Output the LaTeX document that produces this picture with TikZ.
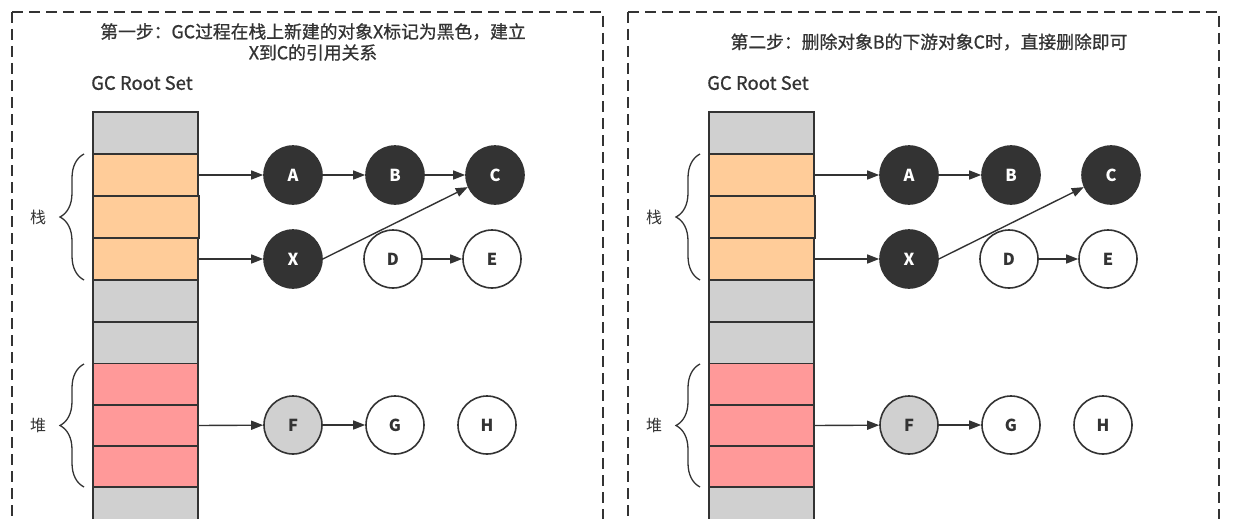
\documentclass[tikz,border=0pt]{standalone}
\usepackage{fontspec}
\setmainfont{Noto Sans CJK SC}
\newfontfamily\medfont{Noto Sans CJK SC}[FakeBold=0.8]
\usetikzlibrary{arrows.meta,decorations.pathreplacing}
\definecolor{ink}{HTML}{333333}
\definecolor{cgray}{HTML}{D0D0D0}
\definecolor{corange}{HTML}{FFCC99}
\definecolor{cpink}{HTML}{FF9999}
\tikzset{
  frame/.style={draw=ink,line width=1.6pt,dash pattern=on 11pt off 6pt},
  cell/.style={draw=ink,line width=1.6pt,minimum width=105pt,minimum height=42pt,inner sep=0pt},
  obj/.style={circle,draw=ink,line width=1.6pt,minimum size=58pt,inner sep=0pt,font=\bfseries\fontsize{16.5}{16.5}\selectfont},
  blk/.style={obj,fill=ink,text=white},
  wht/.style={obj,fill=white,text=ink},
  gry/.style={obj,fill=cgray,text=ink},
  arr/.style={draw=ink,line width=1.4pt,-{Triangle[length=12pt,width=9pt]}},
  curly/.style={draw=ink,line width=1.3pt,decorate,decoration={brace,amplitude=24pt}},
  lbl/.style={text=ink,font=\fontsize{16}{16}\selectfont},
  ttl/.style={text=ink,font=\medfont\fontsize{17.8}{21}\selectfont,align=center},
}
\newcommand\gcpanel[3]{%
\begin{scope}[xshift=#1]
  \draw[frame] (12,12) -- (12,560) (12,12) -- (603,12) -- (603,560);
  \node[ttl] (#2title) at (313,#3) {\ifx#2L 第一步：GC过程在栈上新建的对象X标记为黑色，建立\\X到C的引用关系\else 第二步：删除对象B的下游对象C时，直接删除即可\fi};
  \node[text=ink,font=\medfont\fontsize{18.5}{18.5}\selectfont] (#2root) at (142,83) {GC Root Set};
  \node[cell,fill=cgray]   (#2c1)  at (145.5,133) {};
  \node[cell,fill=corange] (#2c2)  at (145.5,175) {};
  \node[cell,fill=corange,minimum width=106pt] (#2c3)  at (146,217) {};
  \node[cell,fill=corange] (#2c4)  at (145.5,259) {};
  \node[cell,fill=cgray]   (#2c5)  at (145.5,301) {};
  \node[cell,fill=cgray]   (#2c6)  at (145.5,343) {};
  \node[cell,fill=cpink]   (#2c7)  at (145.5,384.5) {};
  \node[cell,fill=cpink,minimum height=41pt]   (#2c8)  at (145.5,425.5) {};
  \node[cell,fill=cpink,minimum height=41pt]   (#2c9)  at (145.5,466.5) {};
  \node[cell,fill=cgray]   (#2c10) at (145.5,508) {};
  \node[blk] (#2A) at (293,175) {A};
  \node[blk] (#2B) at (395,175) {B};
  \node[blk] (#2C) at (495,175) {C};
  \node[blk] (#2X) at (293,259) {X};
  \node[wht] (#2D) at (393,259) {D};
  \node[wht] (#2E) at (492,259) {E};
  \node[gry] (#2F) at (293,425) {F};
  \node[wht] (#2G) at (395,425) {G};
  \node[wht] (#2H) at (487,425) {H};
  \draw[arr] (#2c2.east) -- (#2A);
  \draw[arr] (#2A) -- (#2B);
  \ifx#2L \draw[arr] (#2B) -- (#2C);\fi
  \draw[arr] (#2c4.east) -- (#2X);
  \draw[arr] (#2X.east) -- (#2C.204);
  \draw[arr] (#2D) -- (#2E);
  \draw[arr] (#2c8.east) -- (#2F);
  \draw[arr] (#2F) -- (#2G);
  \coordinate (#2s1) at (84,280);
  \coordinate (#2s2) at (84,154);
  \coordinate (#2h1) at (84,487);
  \coordinate (#2h2) at (84,364);
  \draw[curly] (#2s1) -- (#2s2);
  \draw[curly] (#2h1) -- (#2h2);
  \node[lbl] (#2stack) at (38,217) {栈};
  \node[lbl] (#2heap) at (38,425) {堆};
\end{scope}}
\begin{document}
\begin{tikzpicture}[x=1pt,y=-1pt]
\useasboundingbox (0,0) rectangle (1242,519);
\clip (0,0) rectangle (1242,519);
\fill[white] (0,0) rectangle (1242,519);
\gcpanel{0}{L}{42}
\gcpanel{616}{R}{42}
\end{tikzpicture}
\end{document}
